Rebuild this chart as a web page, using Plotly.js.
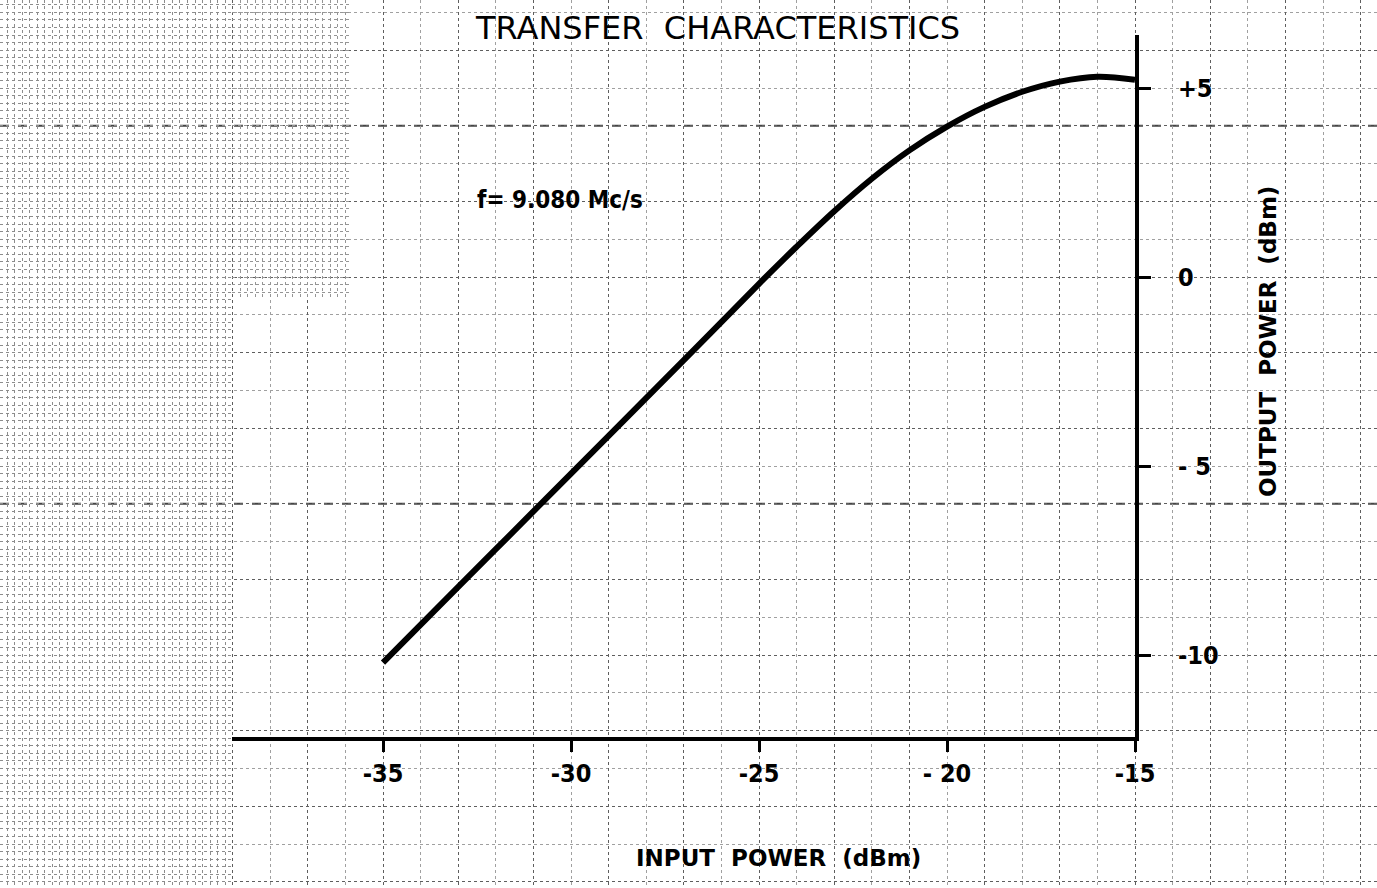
<!DOCTYPE html>
<html>
<head>
<meta charset="utf-8">
<script src="https://cdn.plot.ly/plotly-3.0.1.min.js"></script>
<style>html,body{margin:0;padding:0;background:#fff;}#chart{width:1377px;height:888px;}</style>
</head>
<body>
<div id="chart"></div>
<script>
// ---- data ----
const inputPower  = [-35, -33, -31, -29, -27, -25, -24, -23, -22, -21, -20, -19, -18, -17, -16, -15];
const outputPower = [-10.2, -8.2, -6.2, -4.2, -2.2, -0.18, 0.8, 1.74, 2.6, 3.35, 3.98, 4.5, 4.9, 5.17, 5.3, 5.22];
const xTickVals = [-35, -30, -25, -20, -15];
const xTickText = ['-35', '-30', '-25', '- 20', '-15'];
const yTickVals = [5, 0, -5, -10];
const yTickText = ['+5', '0', '- 5', '-10'];
const titleText = 'TRANSFER&nbsp;&nbsp;CHARACTERISTICS';
const noteText = 'f= 9.080 Mc/s';
const xTitleText = 'INPUT&nbsp;&nbsp;POWER&nbsp;&nbsp;(dBm)';
const yTitleText = 'OUTPUT&nbsp;&nbsp;POWER&nbsp;&nbsp;(dBm)';

// ---- geometry (pixels of the 1377x888 page) ----
const W = 1377, H = 888;
const pxPerDbX = 37.6, pxPerDbY = 37.8;
const x35px = 383, y0px = 277;
const plotL = 232, plotR = 1135, plotT = 35, plotB = 737;
function xAt(px){ return -35 + (px - x35px) / pxPerDbX; }
function yAt(py){ return -(py - y0px) / pxPerDbY; }

const font = 'DejaVu Sans, Liberation Sans, sans-serif';
const narrow = 'Liberation Sans Narrow, DejaVu Sans Condensed, sans-serif';

function gridAxis(domain, range, tick0, dtick, minorD, color, mcolor){
  const ax = {
    domain: domain, range: range, fixedrange: true,
    showticklabels: false, ticks: '', zeroline: false, showline: false,
    showgrid: true, gridcolor: color, gridwidth: 1, griddash: 'dot',
    tick0: tick0, dtick: dtick
  };
  if (minorD) ax.minor = {dtick: minorD, tick0: tick0, showgrid: true, gridcolor: mcolor, gridwidth: 1, griddash: 'dot'};
  return ax;
}

const fullX = [xAt(0), xAt(W)];
const fullY = [yAt(H), yAt(0)];

const traces = [
  {x: [], y: [], xaxis: 'x', yaxis: 'y', type: 'scatter', hoverinfo: 'skip', showlegend: false},
  {x: [], y: [], xaxis: 'x2', yaxis: 'y2', type: 'scatter', hoverinfo: 'skip', showlegend: false},
  {x: [], y: [], xaxis: 'x3', yaxis: 'y3', type: 'scatter', hoverinfo: 'skip', showlegend: false},
  {
    x: inputPower, y: outputPower, xaxis: 'x4', yaxis: 'y4',
    type: 'scatter', mode: 'lines',
    line: {color: '#000', width: 6, shape: 'spline', smoothing: 1},
    hoverinfo: 'skip', showlegend: false
  }
];

const layout = {
  width: W, height: H,
  margin: {l: 0, r: 0, t: 0, b: 0, pad: 0},
  paper_bgcolor: '#ffffff', plot_bgcolor: 'rgba(0,0,0,0)',
  showlegend: false,
  // full-page graph paper
  xaxis: gridAxis([0, 1], fullX, -35, 2, 1, '#5e5e5e', '#a0a0a0'),
  yaxis: gridAxis([0, 1], fullY, 0, 2, 1, '#5e5e5e', '#a0a0a0'),
  // dense left strip of the paper
  xaxis2: gridAxis([0, plotL / W], [xAt(0), xAt(plotL)], -35, 0.2, null, '#8c8c8c', null),
  yaxis2: gridAxis([0, 1], fullY, 0, 0.2, null, '#8c8c8c', null),
  // dense top-left block
  xaxis3: gridAxis([plotL / W, 350 / W], [xAt(plotL), xAt(350)], -35, 0.2, null, '#959595', null),
  yaxis3: gridAxis([1 - 300 / H, 1], [yAt(300), yAt(0)], 0, 0.2, null, '#959595', null),
  // the chart itself
  xaxis4: {
    domain: [plotL / W, plotR / W], range: [xAt(plotL), -15], fixedrange: true,
    showgrid: false, zeroline: false,
    showline: true, linecolor: '#000', linewidth: 4,
    ticks: 'outside', ticklen: 11, tickwidth: 3, tickcolor: '#000',
    tickmode: 'array', tickvals: xTickVals, ticktext: xTickText,
    ticklabelstandoff: 0,
    tickfont: {family: narrow, size: 25, color: '#000', weight: 'bold'},
    anchor: 'y4'
  },
  yaxis4: {
    domain: [1 - plotB / H, 1 - plotT / H], range: [yAt(plotB), yAt(plotT)], fixedrange: true,
    side: 'right', anchor: 'x4',
    showgrid: false, zeroline: false,
    showline: true, linecolor: '#000', linewidth: 4,
    ticks: 'outside', ticklen: 12, tickwidth: 3, tickcolor: '#000',
    tickmode: 'array', tickvals: yTickVals, ticktext: yTickText,
    ticklabelstandoff: 22,
    tickfont: {family: narrow, size: 25, color: '#000', weight: 'bold'}
  },
  shapes: [
    {type: 'line', xref: 'paper', yref: 'y', x0: 0, x1: 1, y0: 4, y1: 4, layer: 'below', line: {color: '#444', width: 2, dash: 'dash'}},
    {type: 'line', xref: 'paper', yref: 'y', x0: 0, x1: 1, y0: -6, y1: -6, layer: 'below', line: {color: '#444', width: 2, dash: 'dash'}}
  ],
  annotations: [
    {text: titleText, xref: 'paper', yref: 'paper', x: 717 / W, y: 1 - 28 / H, xanchor: 'center', yanchor: 'middle', showarrow: false,
     font: {family: font, size: 32, color: '#000'}},
    {text: noteText, xref: 'paper', yref: 'paper', x: 475 / W, y: 1 - 200 / H, xanchor: 'left', yanchor: 'middle', showarrow: false,
     font: {family: narrow, size: 24, color: '#000', weight: 'bold'}},
    {text: xTitleText, xref: 'paper', yref: 'paper', x: 778 / W, y: 1 - 858 / H, xanchor: 'center', yanchor: 'middle', showarrow: false,
     font: {family: font, size: 23, color: '#000', weight: 'bold'}},
    {text: yTitleText, xref: 'paper', yref: 'paper', x: 1268 / W, y: 1 - 342 / H, xanchor: 'center', yanchor: 'middle', showarrow: false,
     textangle: -90, font: {family: font, size: 23, color: '#000', weight: 'bold'}}
  ]
};

Plotly.newPlot('chart', traces, layout, {staticPlot: true, displayModeBar: false});
</script>
</body>
</html>
